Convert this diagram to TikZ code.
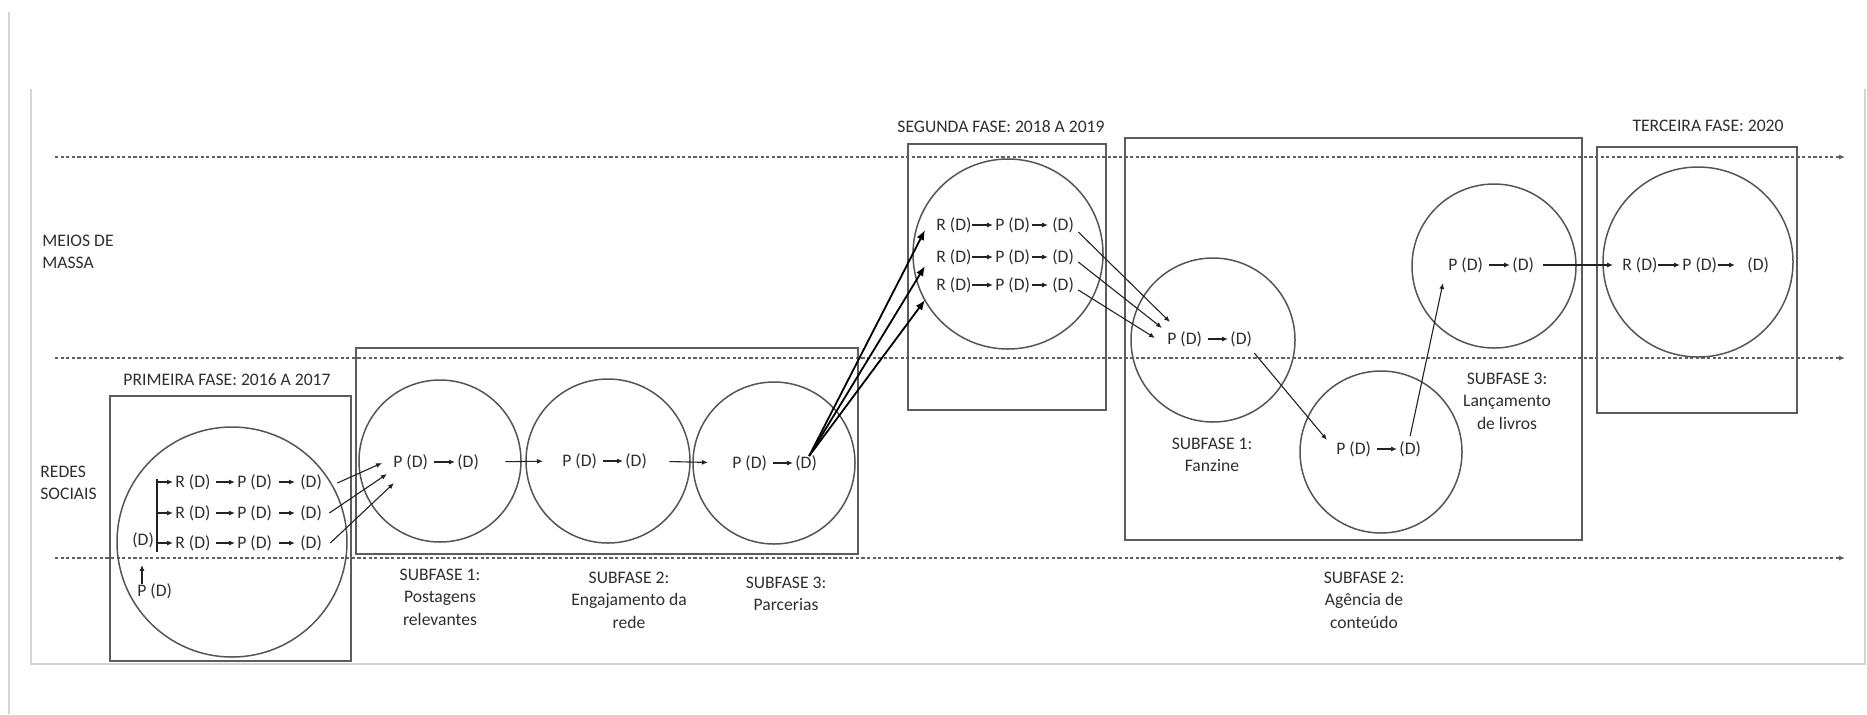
\documentclass[tikz,border=0pt]{standalone}
\usepackage{fontspec}
\setmainfont{Carlito}
\usetikzlibrary{arrows.meta,calc}
\definecolor{textgray}{HTML}{2E2E2E}
\definecolor{ringgray}{HTML}{555555}
\definecolor{boxgray}{HTML}{5C5C5C}
\definecolor{dotgray}{HTML}{606060}
\definecolor{framegray}{HTML}{D4D4D4}
\definecolor{arrowblack}{HTML}{222222}
\begin{document}
\begin{tikzpicture}[x=0.5pt,y=-0.5pt,
  txt/.style={font=\fontsize{8.8}{10.5}\selectfont, text=textgray, inner sep=0pt, anchor=west},
  lbl/.style={font=\fontsize{8.8}{11.3}\selectfont, text=textgray, inner sep=0pt, align=center},
  side/.style={font=\fontsize{8.8}{11}\selectfont, text=textgray, inner sep=0pt, align=left, anchor=west},
  ring/.style={draw=ringgray, line width=0.75pt, circle, inner sep=0pt},
  phasebox/.style={draw=boxgray, line width=1.1pt},
  guide/.style={draw=dotgray, line width=0.75pt, dash pattern=on 1.6pt off 1.2pt, -{Latex[length=3pt,width=2.6pt]}},
  link/.style={draw=arrowblack, line width=0.55pt, -{Latex[length=3pt,width=2.5pt]}, shorten <=1.5pt, shorten >=1pt},
  plain/.style={draw=arrowblack, line width=0.55pt},
  boldlink/.style={draw=black, line width=0.9pt, -{Latex[length=5pt,width=4pt]}},
  frameline/.style={draw=framegray, line width=0.8pt}
]
\useasboundingbox (0,0) rectangle (1867,714);

% page frame
\draw[frameline] (9,12) -- (9,714);
\draw[frameline] (31,89) -- (31,664) -- (1865,664) -- (1865,89);

% guide lines
\coordinate (g1s) at (55,157); \coordinate (g1e) at (1845,157);
\coordinate (g2s) at (55,358); \coordinate (g2e) at (1845,358);
\coordinate (g3s) at (55,558); \coordinate (g3e) at (1845,558);
\draw[guide] (g1s) -- (g1e);
\draw[guide] (g2s) -- (g2e);
\draw[guide] (g3s) -- (g3e);

% side labels
\node[side] (meios) at (42,252) {MEIOS DE\\MASSA};
\node[side] (redes) at (40,483) {REDES\\SOCIAIS};

% phase titles
\node[lbl] (t1) at (227,380) {PRIMEIRA FASE: 2016 A 2017};
\node[lbl] (t2) at (1001,127) {SEGUNDA FASE: 2018 A 2019};
\node[lbl] (t3) at (1708,126) {TERCEIRA FASE: 2020};

% boxes
\draw[phasebox] (110,396) rectangle (351,661);
\draw[phasebox] (356,348) rectangle (858,554);
\draw[phasebox] (908,144) rectangle (1106,410);
\draw[phasebox] (1125,138) rectangle (1582,540);
\draw[phasebox] (1597,147) rectangle (1797,413);

% circles (minimum size in pt = radius in px)
\node[ring, minimum size=115pt] (c0) at (232,542) {};
\node[ring, minimum size=81pt] (c1) at (440,461) {};
\node[ring, minimum size=82pt] (c2) at (608,461) {};
\node[ring, minimum size=81pt] (c3) at (774,463) {};
\node[ring, minimum size=95pt] (cs) at (1008,254) {};
\node[ring, minimum size=82pt] (cf) at (1213,340) {};
\node[ring, minimum size=81pt] (ca) at (1381,452) {};
\node[ring, minimum size=82pt] (cl) at (1494,266) {};
\node[ring, minimum size=95pt] (ct) at (1698,262) {};

% ---- primeira fase
\node[txt] (pd0) at (132,540) {(D)};
\node[txt] (pp0) at (137,591) {P (D)};
\draw[link, shorten <=0pt, shorten >=0pt] ($(pp0.north west)+(5,1)$) -- ($(pp0.north west)+(5,-18)$);
\coordinate (fork) at (157,540);
\draw[plain] (157,479) -- (157,552);
\foreach \i/\y in {1/482,2/513,3/543}{
  \node[txt] (r\i) at (175,\y) {R (D)};
  \node[txt] (p\i) at (237,\y) {P (D)};
  \node[txt] (d\i) at (300,\y) {(D)};
  \draw[link, shorten <=0pt] (r\i.west -| fork) -- (r\i.west);
  \draw[link, shorten <=2.5pt] (r\i.east) -- (p\i.west);
  \draw[link, shorten <=3.5pt, shorten >=2.5pt] (p\i.east) -- (d\i.west);
}

% ---- subfases 1-3 (redes)
\node[txt] (c1p) at (393,462) {P (D)};
\node[txt] (c1d) at (457,462) {(D)};
\node[txt] (c2p) at (562,461) {P (D)};
\node[txt] (c2d) at (625,461) {(D)};
\node[txt] (c3p) at (732,463) {P (D)};
\node[txt] (c3d) at (795,463) {(D)};
\draw[link, shorten <=3pt] (c1p.east) -- (c1d.west);
\draw[link, shorten <=3pt] (c2p.east) -- (c2d.west);
\draw[link, shorten <=3pt] (c3p.east) -- (c3d.west);
\draw[link, shorten <=13pt, shorten >=9.5pt] (c1d.east) -- (c2p.west);
\draw[link, shorten <=11pt, shorten >=12pt] (c2d.east) -- (c3p.west);

\draw[link, shorten <=0pt, shorten >=0pt] ($(d1.east)+(15,1)$) -- ($(c1p.west)+(-11,1)$);
\draw[link, shorten <=0pt, shorten >=0pt] ($(d2.east)+(7,0)$) -- ($(c1p.west)+(-6,12)$);
\draw[link, shorten <=0pt, shorten >=0pt] ($(d3.east)+(8,0)$) -- ($(c1p.west)+(1,21)$);

\node[lbl] (s1) at (440,597) {SUBFASE 1:\\Postagens\\relevantes};
\node[lbl] (s2) at (629,600) {SUBFASE 2:\\Engajamento da\\rede};
\node[lbl] (s3) at (786,594) {SUBFASE 3:\\Parcerias};

% ---- segunda fase
\foreach \i/\y in {1/225,2/257,3/285}{
  \node[txt] (sr\i) at (936,\y) {R (D)};
  \node[txt] (sp\i) at (995,\y) {P (D)};
  \node[txt] (sd\i) at (1052,\y) {(D)};
  \draw[link, shorten <=0pt] (sr\i.east) -- (sp\i.west);
  \draw[link, shorten <=1pt, shorten >=2pt] (sp\i.east) -- (sd\i.west);
}
\draw[boldlink] ($(c3d.north)+(3,1)$) -- ($(sr1.west)+(-11,5)$);
\draw[boldlink] ($(c3d.north)+(3,1)$) -- ($(sr2.west)+(-11,9)$);
\draw[boldlink] ($(c3d.north)+(3,1)$) -- ($(sr3.west)+(-11,15)$);

% fanzine
\node[txt] (fp) at (1167,339) {P (D)};
\node[txt] (fd) at (1230,339) {(D)};
\draw[link, shorten <=3pt] (fp.east) -- (fd.west);
\draw[link, shorten <=0pt, shorten >=0pt] ($(sd1.east)+(4,7)$) -- ($(fp.west)+(3,-17)$);
\draw[link, shorten <=0pt, shorten >=0pt] ($(sd2.east)+(4,5)$) -- ($(fp.west)+(-5,-11)$);
\draw[link, shorten <=0pt, shorten >=0pt] ($(sd3.east)+(4,5)$) -- ($(fp.west)+(-12,-1)$);
\node[lbl] (sf1) at (1212,455) {SUBFASE 1:\\Fanzine};

% agencia
\node[txt] (ap) at (1336,449) {P (D)};
\node[txt] (ad) at (1399,449) {(D)};
\draw[link, shorten <=3pt] (ap.east) -- (ad.west);
\draw[link, shorten <=0pt, shorten >=0pt] ($(fd.south east)+(2,6)$) -- ($(ap.west)+(-9,-9)$);
\node[lbl] (sf2) at (1364,600) {SUBFASE 2:\\Agência de\\conteúdo};

% lancamento
\node[txt] (lp) at (1448,265) {P (D)};
\node[txt] (ld) at (1512,265) {(D)};
\draw[link, shorten <=3pt] (lp.east) -- (ld.west);
\draw[link, shorten <=0pt, shorten >=0pt] ($(ad.north)+(0,-5)$) -- ($(lp.west)+(-5,18)$);
\node[lbl] (sf3) at (1507,401) {SUBFASE 3:\\Lançamento\\de livros};

% ---- terceira fase
\node[txt] (tr) at (1622,265) {R (D)};
\node[txt] (tp) at (1682,265) {P (D)};
\node[txt] (td) at (1747,265) {(D)};
\draw[link, shorten <=0pt] (tr.east) -- (tp.west);
\draw[link, shorten <=0.5pt, shorten >=6pt] (tp.east) -- (td.west);
\draw[link, shorten <=4.5pt, shorten >=4.5pt] (ld.east) -- (tr.west);

\end{tikzpicture}
\end{document}
